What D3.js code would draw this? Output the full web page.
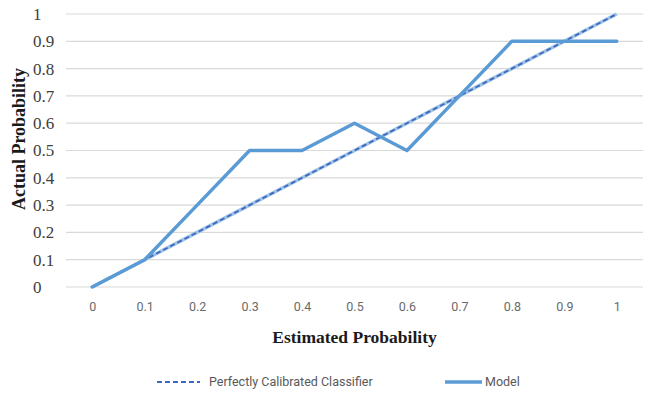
<!DOCTYPE html>
<html>
<head>
<meta charset="utf-8">
<script src="https://cdn.jsdelivr.net/npm/d3@7"></script>
<style>
  body { margin: 0; background: #fff; }
</style>
</head>
<body>
<div id="chart"></div>
<script>
// chart values
const estimated = ["0", "0.1", "0.2", "0.3", "0.4", "0.5", "0.6", "0.7", "0.8", "0.9", "1"];
const perfect = [0, 0.1, 0.2, 0.3, 0.4, 0.5, 0.6, 0.7, 0.8, 0.9, 1];
const model = [0, 0.1, 0.3, 0.5, 0.5, 0.6, 0.5, 0.7, 0.9, 0.9, 0.9];
const yTicks = [0, 0.1, 0.2, 0.3, 0.4, 0.5, 0.6, 0.7, 0.8, 0.9, 1];

const W = 653, H = 398;
const plot = {left: 66, right: 643, top: 14, bottom: 287};

const svg = d3.select("#chart").append("svg")
    .attr("width", W)
    .attr("height", H);

const x = d3.scalePoint()
    .domain(estimated)
    .range([plot.left, plot.right])
    .padding(0.5);

const y = d3.scaleLinear()
    .domain([0, 1])
    .range([plot.bottom, plot.top]);

// gridlines
svg.append("g")
    .selectAll("line")
    .data(yTicks)
    .join("line")
    .attr("x1", plot.left)
    .attr("x2", plot.right)
    .attr("y1", d => y(d))
    .attr("y2", d => y(d))
    .attr("stroke", "#d9d9d9")
    .attr("stroke-width", 1.2);

// y labels (left aligned like the original)
svg.append("g")
    .selectAll("text")
    .data(yTicks)
    .join("text")
    .attr("x", 33)
    .attr("y", d => y(d))
    .attr("dy", "0.35em")
    .attr("font-family", "'Liberation Serif', 'DejaVu Serif', serif")
    .attr("font-size", 17)
    .attr("fill", "#404040")
    .text(d => d3.format("~g")(d));

// x axis labels
const xAxis = d3.axisBottom(x).tickSize(0).tickPadding(0);
const gx = svg.append("g")
    .attr("transform", `translate(0,${plot.bottom + 15})`)
    .call(xAxis);
gx.select(".domain").remove();
gx.selectAll("text")
    .attr("font-family", "Roboto, 'Open Sans', sans-serif")
    .attr("font-size", 12.5)
    .attr("fill", "#6a6a6a");

// axis titles
svg.append("text")
    .attr("x", (plot.left + plot.right) / 2)
    .attr("y", 343)
    .attr("text-anchor", "middle")
    .attr("font-family", "'Liberation Serif', 'DejaVu Serif', serif")
    .attr("font-weight", "bold")
    .attr("font-size", 17.5)
    .attr("fill", "#1a1a1a")
    .text("Estimated Probability");

svg.append("text")
    .attr("transform", "translate(25,139) rotate(-90)")
    .attr("text-anchor", "middle")
    .attr("font-family", "'Liberation Serif', 'DejaVu Serif', serif")
    .attr("font-weight", "bold")
    .attr("font-size", 18)
    .attr("fill", "#1a1a1a")
    .text("Actual Probability");

const line = d3.line()
    .x((d, i) => x(estimated[i]))
    .y(d => y(d));

// perfectly calibrated: light outline + dark dashes
svg.append("path")
    .datum(perfect)
    .attr("d", line)
    .attr("fill", "none")
    .attr("stroke", "#9dc3e6")
    .attr("stroke-width", 3.5);
svg.append("path")
    .datum(perfect)
    .attr("d", line)
    .attr("fill", "none")
    .attr("stroke", "#3f68c0")
    .attr("stroke-width", 1.8)
    .attr("stroke-dasharray", "5,3");

// model
svg.append("path")
    .datum(model)
    .attr("d", line)
    .attr("fill", "none")
    .attr("stroke", "#5b9bd5")
    .attr("stroke-width", 3.5)
    .attr("stroke-linejoin", "round")
    .attr("stroke-linecap", "round");

// legend
const legend = svg.append("g")
    .attr("font-family", "Roboto, 'Open Sans', sans-serif")
    .attr("font-size", 12.5)
    .attr("fill", "#595959");

legend.append("line")
    .attr("x1", 157).attr("x2", 200)
    .attr("y1", 382).attr("y2", 382)
    .attr("stroke", "#3f68c0")
    .attr("stroke-width", 2)
    .attr("stroke-dasharray", "5,3");
legend.append("text")
    .attr("x", 209).attr("y", 382).attr("dy", "0.35em")
    .text("Perfectly Calibrated Classifier");

legend.append("line")
    .attr("x1", 445).attr("x2", 482)
    .attr("y1", 382).attr("y2", 382)
    .attr("stroke", "#5b9bd5")
    .attr("stroke-width", 3.5);
legend.append("text")
    .attr("x", 485).attr("y", 382).attr("dy", "0.35em")
    .text("Model");
</script>
</body>
</html>
